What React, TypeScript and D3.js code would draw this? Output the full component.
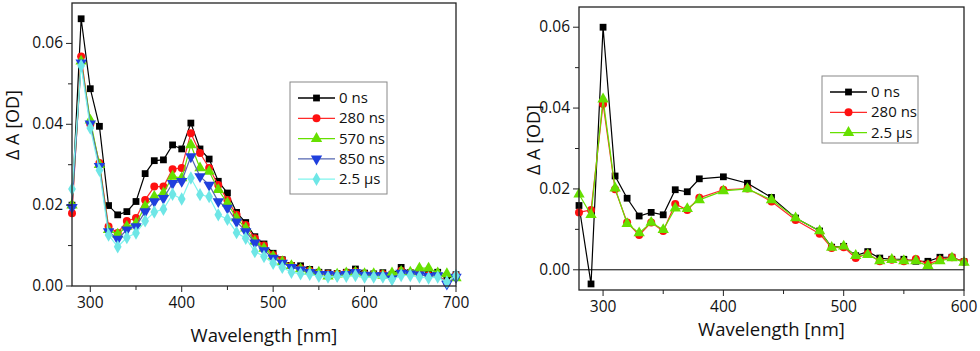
import React from 'react';
import * as d3 from 'd3';

// left panel: 280-700 nm, 10 nm steps, values in mOD
const wlLeft = d3.range(280, 701, 10);
const left0ns = [20, 66.1, 48.8, 39.5, 19.9, 17.6, 18.4, 20.9, 27.8, 31.0, 31.2, 34.9, 33.9, 40.3, 33.9, 31.4, 25.9, 23.0, 18.2, 15.7, 12.2, 10.4, 8.1, 6.5, 5.1, 5.0, 4.1, 3.4, 3.3, 3.1, 3.4, 4.2, 3.2, 3.0, 3.3, 2.9, 4.6, 3.3, 3.2, 3.0, 3.4, 1.8, 2.8];
const left280ns = [18, 56.8, 40, 30.4, 14.7, 13.1, 16.1, 16.8, 21.3, 24.6, 24.6, 28.9, 29.2, 37.8, 32.9, 29.2, 25.0, 21.3, 17.6, 15.1, 11.8, 10.0, 7.7, 6.4, 5.0, 4.4, 3.8, 3.2, 3.0, 3.0, 3.3, 3.6, 3.0, 2.8, 3.0, 2.6, 3.8, 3.2, 3.4, 2.6, 2.8, 0.8, 2.6];
const left570ns = [20, 55.6, 41, 30.0, 13.9, 12.8, 14.7, 15.5, 19.7, 22.1, 23.0, 27.1, 26.7, 34.9, 29.2, 28.3, 23.8, 20.5, 16.8, 14.3, 11.0, 9.3, 7.3, 6.0, 5.0, 4.2, 3.6, 3.4, 2.4, 2.9, 3.2, 3.4, 3.0, 3.0, 2.6, 3.2, 3.6, 3.4, 4.4, 4.4, 3.2, 3.0, 2.0];
const left850ns = [19.5, 55.2, 40.1, 29.6, 13.5, 11.6, 13.9, 14.7, 18.4, 20.9, 21.7, 25.4, 25.9, 32.0, 27.1, 25.0, 20.9, 19.3, 15.9, 13.5, 10.7, 8.8, 6.9, 5.7, 4.6, 4.0, 3.4, 2.9, 2.9, 2.6, 2.9, 3.4, 2.7, 2.6, 2.6, 1.8, 3.2, 3.0, 2.8, 2.4, 2.6, 0.5, 2.2];
const left2_5us = [24.0, 54.5, 39.1, 28.6, 12.6, 9.7, 12.0, 13.1, 16.1, 18.3, 19.0, 22.7, 21.5, 26.7, 22.6, 22.1, 17.6, 16.5, 13.2, 11.8, 8.5, 7.3, 5.6, 4.6, 3.4, 3.0, 2.9, 2.4, 2.2, 2.4, 2.4, 2.6, 2.2, 2.2, 2.2, 1.6, 2.6, 2.6, 2.2, 2.0, 2.2, 1.0, 2.6];

// right panel
const wlRight = [280, 290, 300, 310, 320, 330, 340, 350, 360, 370, 380, 400, 420, 440, 460, 480, 490, 500, 510, 520, 530, 540, 550, 560, 570, 580, 590, 600];
const right0ns = [15.9, -3.5, 60.0, 23.2, 17.7, 13.3, 14.2, 13.6, 19.8, 19.3, 22.5, 23.0, 21.4, 17.9, 12.8, 9.6, 5.6, 5.8, 3.5, 4.5, 2.9, 2.6, 2.6, 2.1, 2.1, 3.1, 3.1, 2.0];
const right280ns = [14.2, 14.8, 41.0, 19.9, 11.7, 8.6, 11.7, 9.6, 16.3, 14.8, 17.8, 19.8, 20.1, 16.9, 12.3, 8.9, 5.4, 5.6, 2.9, 4.0, 2.1, 2.5, 2.1, 2.7, 1.4, 2.5, 3.1, 2.0];
const right2_5us = [18.7, 13.6, 42.2, 20.2, 11.4, 9.1, 11.7, 9.9, 15.2, 15.1, 17.3, 19.5, 20.0, 17.3, 12.8, 9.6, 5.5, 5.8, 3.5, 3.7, 2.2, 2.5, 2.2, 2.2, 1.0, 2.2, 2.9, 1.8];

const yTicks = [0, 0.02, 0.04, 0.06];
const FONT = '"Open Sans", sans-serif';

type Series = { label: string; values: number[]; line: string; fill: string; symbol: d3.SymbolType; rot?: number };

const leftSeries: Series[] = [
  { label: '0 ns', values: left0ns, line: '#000000', fill: '#000000', symbol: d3.symbolSquare },
  { label: '280 ns', values: left280ns, line: '#ff2a2a', fill: '#ff1010', symbol: d3.symbolCircle },
  { label: '570 ns', values: left570ns, line: '#66e000', fill: '#66e000', symbol: d3.symbolTriangle },
  { label: '850 ns', values: left850ns, line: '#5566b0', fill: '#1f3fdd', symbol: d3.symbolTriangle, rot: 180 },
  { label: '2.5 µs', values: left2_5us, line: '#7ff5ee', fill: '#6ee6e6', symbol: d3.symbolDiamond },
];

const rightSeries: Series[] = [
  { label: '0 ns', values: right0ns, line: '#000000', fill: '#000000', symbol: d3.symbolSquare },
  { label: '280 ns', values: right280ns, line: '#ff2a2a', fill: '#ff1010', symbol: d3.symbolCircle },
  { label: '2.5 µs', values: right2_5us, line: '#66e000', fill: '#66e000', symbol: d3.symbolTriangle },
];

const symSize = (s: d3.SymbolType) => (s === d3.symbolSquare ? 46 : s === d3.symbolDiamond ? 52 : s === d3.symbolTriangle ? 56 : 50);

const Marker = ({ s, x, y }: { s: Series; x: number; y: number }) => (
  <path
    d={d3.symbol(s.symbol, symSize(s.symbol))() || ''}
    transform={`translate(${x},${y}) rotate(${s.rot || 0})`}
    fill={s.fill}
  />
);

type PanelProps = {
  wl: number[];
  series: Series[];
  xDomain: [number, number];
  yDomain: [number, number];
  box: { l: number; r: number; t: number; b: number };
  xTicks: number[];
  legend: { x: number; y: number; w: number; h: number };
  yLabelX: number;
  yLabelY: number;
  xLabelY: number;
  zeroLine?: boolean;
};

const Panel = ({ wl, series, xDomain, yDomain, box, xTicks, legend, yLabelX, yLabelY, xLabelY, zeroLine }: PanelProps) => {
  const x = d3.scaleLinear().domain(xDomain).range([box.l, box.r]);
  const y = d3.scaleLinear().domain(yDomain).range([box.b, box.t]);
  const line = d3.line<number>().x((_, i) => x(wl[i])).y((v) => y(v / 1000));
  const minorX = xTicks.slice(0, -1).map((t) => t + 50);
  const minorY = [0.01, 0.03, 0.05].filter((v) => v < yDomain[1]);
  return (
    <g fontFamily={FONT}>
      {zeroLine && <line x1={box.l} x2={box.r} y1={y(0)} y2={y(0)} stroke="#000" strokeWidth={1} />}
      {series.map((s) => (
        <g key={s.label}>
          <path d={line(s.values) || ''} fill="none" stroke={s.line} strokeWidth={1.2} />
          {s.values.map((v, i) => (
            <Marker key={i} s={s} x={x(wl[i])} y={y(v / 1000)} />
          ))}
        </g>
      ))}
      <rect x={box.l} y={box.t} width={box.r - box.l} height={box.b - box.t} fill="none" stroke="#222" strokeWidth={1.3} />
      {xTicks.map((t) => (
        <g key={t}>
          <line x1={x(t)} x2={x(t)} y1={box.b} y2={box.b + 6} stroke="#222" />
          <text x={x(t)} y={box.b + 22} textAnchor="middle" fontSize={15.5} fill="#111">{t}</text>
        </g>
      ))}
      {minorX.map((t) => (
        <line key={t} x1={x(t)} x2={x(t)} y1={box.b} y2={box.b + 4} stroke="#222" />
      ))}
      {yTicks.map((t) => (
        <g key={t}>
          <line x1={box.l - 6} x2={box.l} y1={y(t)} y2={y(t)} stroke="#222" />
          <text x={box.l - 9} y={y(t) + 5} textAnchor="end" fontSize={15.5} fill="#111">{t.toFixed(2)}</text>
        </g>
      ))}
      {minorY.map((t) => (
        <line key={t} x1={box.l - 4} x2={box.l} y1={y(t)} y2={y(t)} stroke="#222" />
      ))}
      <text x={(box.l + box.r) / 2} y={xLabelY} textAnchor="middle" fontSize={18.5} fill="#111">Wavelength [nm]</text>
      <text transform={`translate(${yLabelX},${yLabelY}) rotate(-90)`} textAnchor="middle" fontSize={18} fill="#111">Δ A [OD]</text>
      <rect x={legend.x} y={legend.y} width={legend.w} height={legend.h} fill="#fff" stroke="#888" strokeWidth={1} />
      {series.map((s, i) => {
        const ly = legend.y + 16 + i * 20.3;
        return (
          <g key={s.label}>
            <line x1={legend.x + 8} x2={legend.x + 45} y1={ly} y2={ly} stroke={s.line} strokeWidth={1.3} />
            <Marker s={s} x={legend.x + 26.5} y={ly} />
            <text x={legend.x + 49} y={ly + 5} fontSize={15} fill="#111">{s.label}</text>
          </g>
        );
      })}
    </g>
  );
};

export default function App() {
  return (
    <div style={{ position: 'fixed', left: 0, top: 0 }}>
      <svg width={980} height={351} style={{ display: 'block', background: '#fff' }}>
        <Panel
          wl={wlLeft}
          series={leftSeries}
          xDomain={[280, 700]}
          yDomain={[0, 0.07]}
          box={{ l: 72, r: 456, t: 3, b: 286 }}
          xTicks={[300, 400, 500, 600, 700]}
          legend={{ x: 290, y: 82, w: 97, h: 112 }}
          yLabelX={19}
          yLabelY={125}
          xLabelY={342}
        />
        <Panel
          wl={wlRight}
          series={rightSeries}
          xDomain={[280, 600]}
          yDomain={[-0.005, 0.065]}
          box={{ l: 579, r: 964, t: 7, b: 290 }}
          xTicks={[300, 400, 500, 600]}
          legend={{ x: 822, y: 76, w: 96, h: 67 }}
          yLabelX={540}
          yLabelY={140}
          xLabelY={336}
          zeroLine
        />
      </svg>
    </div>
  );
}
